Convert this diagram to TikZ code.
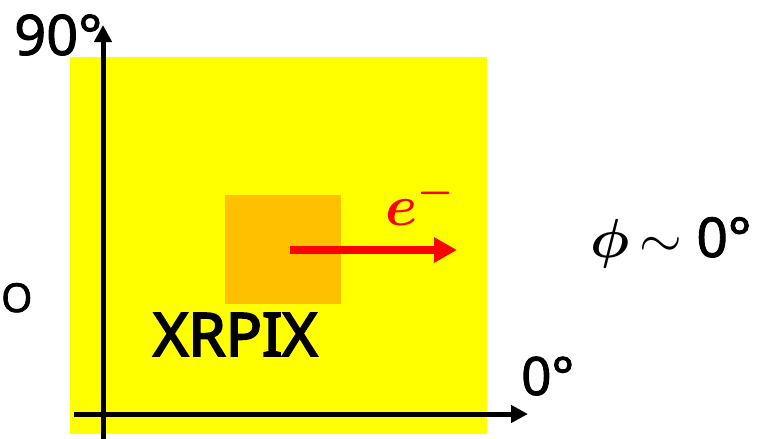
\RequirePackage{fix-cm}
\documentclass[tikz,border=0pt]{standalone}
\usepackage{amsmath,amssymb,bm}
\usepackage{fontspec}
\setmainfont{Noto Sans}
\newfontfamily\medsans[FakeBold=1.6]{Noto Sans}
\newfontfamily\heavysans[FakeBold=3.2]{Noto Sans}
\usepackage{tikz}
\usetikzlibrary{arrows.meta}
\usepackage{xcolor}
\definecolor{chipyellow}{RGB}{255,255,0}
\definecolor{pixorange}{RGB}{255,192,0}
\definecolor{beamred}{RGB}{255,0,0}

\tikzset{
  axis/.style={line width=5pt, -{Triangle[length=17pt,width=17pt]}},
  beam/.style={line width=8pt, beamred, -{Triangle[length=23pt,width=24pt]}},
  lbl/.style={inner sep=0pt, anchor=base west}
}

\begin{document}
\begin{tikzpicture}[x=1pt, y=-1pt]
    \useasboundingbox (0,0) rectangle (758,439);
    % chip and pixel
    \fill[chipyellow] (70,57) rectangle (487,434);
    \fill[pixorange] (225,195) rectangle (341,304);
    \begin{scope}
    \coordinate (ybot) at (103,439);
    \coordinate (ytop) at (103,25);
    \coordinate (xleft) at (74,414);
    \coordinate (xright) at (528,414);
    \coordinate (estart) at (290,250);
    \coordinate (eend) at (457,250);
    \draw[axis] (ybot) -- (ytop);
    \draw[axis] (xleft) -- (xright);
    \draw[beam] (estart) -- (eend);
    \end{scope}
    \begin{scope}
    \node[lbl, font=\medsans\fontsize{56}{60}\selectfont] (ninety) at (14,55) {90°};
    \node[lbl, font=\medsans\fontsize{53}{58}\selectfont] (zero) at (521,395) {0°};
    \node[lbl, font=\medsans\fontsize{55}{60}\selectfont] (phi) at (590,257) {$\bm{\phi}$\hspace{10pt}$\sim$ 0°};
    \node[lbl, font=\heavysans\fontsize{60}{64}\selectfont] (xrpix) at (153,356) {XRPIX};
    \node[lbl, font=\medsans\fontsize{40}{44}\selectfont] (o) at (1,312) {O};
    \node[lbl, text=beamred, font=\fontsize{58}{62}\selectfont] (elec) at (385,225) {$\bm{e^{-}}$};
    \end{scope}
\end{tikzpicture}
\end{document}
